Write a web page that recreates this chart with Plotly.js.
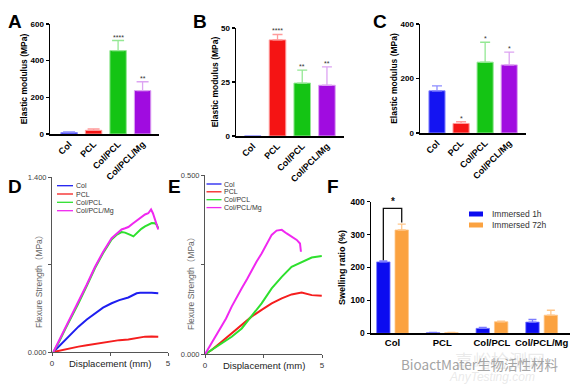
<!DOCTYPE html>
<html><head><meta charset="utf-8">
<script src="https://cdn.plot.ly/plotly-3.0.1.min.js"></script>
<style>html,body{margin:0;padding:0;background:#fff}#c{width:579px;height:388px}</style>
</head><body><div id="c"></div>
<script>
// ---------- data ----------
const groups = ["Col", "PCL", "Col/PCL", "Col/PCL/Mg"];
const barColors = ["#1414F2", "#F51414", "#14C414", "#A00CE0"];
const errColors = ["#8C8CFF", "#FF9A9A", "#94E894", "#DDA4F2"];

const modA = [8, 20, 455, 237];
const errA = [3, 8, 55, 48];
const starA = ["", "", "****", "**"];

const modB = [0, 44.5, 24.5, 23.5];
const errB = [0, 2.5, 6, 8.5];
const starB = ["", "****", "**", "**"];

const modC = [155, 35, 260, 250];
const errC = [18, 7, 73, 47];
const starC = ["", "*", "*", "*"];

const lineColors = ["#1E1EF0", "#F51E1E", "#2EE02E", "#F028F0"];

const dColX = [0.06,0.42,0.8,1.14,1.5,1.85,2.2,2.57,2.9,3.29,3.5,3.65,3.8,4.01,4.3,4.58];
const dColY = [0,0.069,0.14,0.203,0.26,0.31,0.355,0.39,0.415,0.436,0.455,0.47,0.474,0.476,0.474,0.47];
const dPclX = [0.06,0.42,0.8,1.14,1.5,1.85,2.2,2.57,2.9,3.29,3.65,4.01,4.3,4.58];
const dPclY = [0,0.016,0.03,0.043,0.054,0.064,0.076,0.088,0.095,0.10,0.112,0.123,0.124,0.123];
const dCpX = [0.06,0.3,0.56,0.85,1.14,1.5,1.85,2.2,2.57,2.8,3.0,3.15,3.29,3.4,3.51,3.6,3.72,3.85,4.01,4.15,4.30,4.42,4.51,4.58];
const dCpY = [0,0.08,0.18,0.28,0.39,0.53,0.67,0.79,0.90,0.94,0.96,0.955,0.946,0.935,0.925,0.94,0.965,0.985,1.005,1.02,1.031,1.03,1.018,0.991];
const dMgX = [0.06,0.3,0.56,0.85,1.14,1.5,1.85,2.2,2.57,2.8,3.0,3.15,3.29,3.5,3.72,3.85,4.01,4.15,4.27,4.35,4.44,4.52,4.58];
const dMgY = [0,0.09,0.19,0.29,0.40,0.54,0.68,0.80,0.91,0.95,0.98,0.99,1.00,1.03,1.06,1.08,1.10,1.11,1.14,1.11,1.06,1.03,0.98];

const eColX = [];
const eColY = [];
const ePclX = [0,0.28,0.71,1.14,1.57,1.99,2.42,2.85,3.28,3.70,4.13,4.56,4.99];
const ePclY = [0,0.012,0.035,0.059,0.082,0.105,0.124,0.142,0.156,0.167,0.172,0.165,0.163];
const eCpX = [0,0.28,0.71,1.14,1.57,1.99,2.42,2.85,3.28,3.70,4.13,4.56,4.99];
const eCpY = [0,0.012,0.031,0.049,0.072,0.105,0.142,0.184,0.216,0.244,0.258,0.270,0.274];
const eMgX = [0,0.28,0.5,0.71,0.9,1.14,1.35,1.57,1.8,1.99,2.2,2.42,2.65,2.85,3.06,3.28,3.49,3.70,3.92,4.06,4.10];
const eMgY = [0,0.031,0.055,0.077,0.10,0.133,0.16,0.184,0.21,0.235,0.258,0.281,0.31,0.333,0.345,0.347,0.337,0.328,0.319,0.309,0.286];

const swellNames = ["Immersed 1h", "Immersed 72h"];
const swellColors = ["#0C0CF0", "#FBA240"];
const swellErrColors = ["#7C7CFF", "#FFC689"];
const swell1h = [217, 2, 15, 34];
const err1h = [3, 0.5, 3, 8];
const swell72h = [314, 2, 35, 55];
const err72h = [18, 0.5, 2, 15];
const sigLevel = 380;
const sigText = "*";

// ---------- helpers ----------
const W = 579, H = 388;
const px = x => x / W;
const py = y => 1 - y / H;
const FF = "Liberation Sans, Arial, Noto Sans CJK SC, sans-serif";

const traces = [];
const annotations = [];
const shapes = [];

function barPanel(vals, errs, stars, xa, ya) {
  traces.push({
    type: "bar", x: groups, y: vals, xaxis: xa, yaxis: ya,
    width: 0.67, offset: -0.335,
    marker: {color: barColors, line: {color: errColors, width: 1}},
    showlegend: false, hoverinfo: "skip"
  });
  groups.forEach((g, i) => {
    if (stars[i]) {
      annotations.push({x: g, y: vals[i] + errs[i], xref: xa, yref: ya, text: stars[i],
        showarrow: false, xanchor: "center", yanchor: "bottom", yshift: -2,
        font: {family: FF, size: 7, color: "#333"}});
    }
  });
}

// per-bar coloured error bars
function colouredErr(vals, errs, xa, ya, capw) {
  groups.forEach((g, i) => {
    if (errs[i] <= 0 || vals[i] <= 0) return;
    traces.push({
      type: "bar", x: [g], y: [vals[i]], xaxis: xa, yaxis: ya,
      width: 0.67, offset: -0.335,
      marker: {color: "rgba(0,0,0,0)"},
      error_y: {type: "data", symmetric: false, array: [errs[i]], arrayminus: [0],
        color: errColors[i], thickness: 1.3, width: capw},
      showlegend: false, hoverinfo: "skip"
    });
  });
}

barPanel(modA, errA, starA, "x", "y");
barPanel(modB, errB, starB, "x2", "y2");
barPanel(modC, errC, starC, "x3", "y3");
colouredErr(modA, errA, "x", "y", 6);
colouredErr(modB, errB, "x2", "y2", 5);
colouredErr(modC, errC, "x3", "y3", 5);

// line panels
const dSeries = [[dColX, dColY], [dPclX, dPclY], [dCpX, dCpY], [dMgX, dMgY]];
const eSeries = [[eColX, eColY], [ePclX, ePclY], [eCpX, eCpY], [eMgX, eMgY]];
dSeries.forEach((s, i) => traces.push({type: "scatter", mode: "lines", x: s[0], y: s[1],
  xaxis: "x4", yaxis: "y4", line: {color: lineColors[i], width: 2}, name: groups[i], showlegend: false, hoverinfo: "skip"}));
eSeries.forEach((s, i) => traces.push({type: "scatter", mode: "lines", x: s[0], y: s[1],
  xaxis: "x5", yaxis: "y5", line: {color: lineColors[i], width: 2}, name: groups[i], showlegend: false, hoverinfo: "skip"}));

// swelling bars
[[swell1h, err1h], [swell72h, err72h]].forEach((s, k) => {
  traces.push({type: "bar", x: groups, y: s[0], xaxis: "x6", yaxis: "y6",
    width: 0.27, offset: k === 0 ? -0.32 : 0.05,
    marker: {color: swellColors[k], line: {color: swellErrColors[k], width: 0.8}},
    error_y: {type: "data", symmetric: false, array: s[1], arrayminus: s[1].map(() => 0),
      color: swellErrColors[k], thickness: 1.3, width: 4},
    name: swellNames[k], showlegend: false, hoverinfo: "skip"});
});

// significance bracket in F
const bL = -0.185, bR = 0.185;
shapes.push({type: "path", xref: "x6", yref: "y6",
  path: `M ${bL} ${swell1h[0] + err1h[0] + 2} L ${bL} ${sigLevel} L ${bR} ${sigLevel} L ${bR} ${swell72h[0] + err72h[0] + 5}`,
  line: {color: "#111", width: 1.3}});
annotations.push({x: 0, y: sigLevel, xref: "x6", yref: "y6", text: sigText, showarrow: false,
  xanchor: "center", yanchor: "bottom", yshift: -1, font: {family: FF, size: 10, color: "#111", weight: "bold"}});

// custom legends for D and E
function lineLegend(x0, x1, tx, ys) {
  groups.forEach((g, i) => {
    shapes.push({type: "line", xref: "paper", yref: "paper", x0: px(x0), x1: px(x1), y0: py(ys[i]), y1: py(ys[i]),
      line: {color: lineColors[i], width: 1.3}});
    annotations.push({x: px(tx), y: py(ys[i]), xref: "paper", yref: "paper", text: g, showarrow: false,
      xanchor: "left", yanchor: "middle", font: {family: FF, size: 7, color: "#333"}});
  });
}
lineLegend(57, 73, 73.5, [185.7, 194, 202.3, 210.7]);
lineLegend(206.5, 221.5, 222, [184, 191.8, 199.7, 207.6]);

// axis titles for D and E (placed like the original, on the tick-label row)
[[110, 363.5], [263.5, 365]].forEach(p => annotations.push({x: px(p[0]), y: py(p[1]), xref: "paper", yref: "paper",
  text: "Displacement (mm)", showarrow: false, xanchor: "center", yanchor: "middle",
  font: {family: FF, size: 9.5, color: "#222"}}));
[[39, 280], [191, 282]].forEach(p => annotations.push({x: px(p[0]), y: py(p[1]), xref: "paper", yref: "paper",
  text: "Flexure Strength（MPa）", textangle: -90, showarrow: false, xanchor: "center", yanchor: "middle",
  font: {family: FF, size: 8.5, color: "#666"}}));

// legend F
[[211.5, 216.5, 214], [222.5, 227.5, 225]].forEach((r, k) => {
  shapes.push({type: "rect", xref: "paper", yref: "paper", x0: px(469), x1: px(483), y0: py(r[1]), y1: py(r[0]),
    fillcolor: swellColors[k], line: {width: 0}});
  annotations.push({x: px(490), y: py(r[2]), xref: "paper", yref: "paper", text: swellNames[k], showarrow: false,
    xanchor: "left", yanchor: "middle", font: {family: FF, size: 8.5, color: "#333"}});
});

// panel letters
[["A", 15, 21], ["B", 200, 21], ["C", 380, 21], ["D", 15, 186], ["E", 174, 186], ["F", 333, 186]].forEach(l => {
  annotations.push({x: px(l[1]), y: py(l[2]), xref: "paper", yref: "paper", text: l[0], showarrow: false,
    xanchor: "center", yanchor: "middle", font: {family: FF, size: 19, color: "#000", weight: "bold"}});
});

// watermark texts
annotations.push({x: px(500), y: py(359.5), xref: "paper", yref: "paper", text: "嘉峪检测网", showarrow: false,
  xanchor: "center", yanchor: "middle",
  font: {family: "Noto Sans CJK SC", size: 18, color: "rgba(200,200,200,0.4)"}});
annotations.push({x: px(492), y: py(377), xref: "paper", yref: "paper", text: "<i>AnyTesting.com</i>", showarrow: false,
  xanchor: "center", yanchor: "middle",
  font: {family: FF, size: 12, color: "rgba(200,200,200,0.4)"}});
annotations.push({x: px(479), y: py(364), xref: "paper", yref: "paper", text: "BioactMater生物活性材料", showarrow: false,
  xanchor: "center", yanchor: "middle",
  font: {family: "Noto Sans CJK SC", size: 13.5, color: "#A4A4A4"}});

// ---------- axes ----------
const boldTick = s => ({family: FF, size: s, color: "#000", weight: "bold"});
function catX(dom, anchor, range, angle, size) {
  return {domain: dom, anchor: anchor, type: "category", range: range, tickangle: angle,
    showline: true, linecolor: "#000", linewidth: 1.5, ticks: "", showgrid: false, zeroline: false,
    tickfont: boldTick(size), fixedrange: true};
}
function numY(dom, anchor, range, tv, title, size) {
  return {domain: dom, anchor: anchor, range: range, tickvals: tv, showline: true, linecolor: "#000", linewidth: 1.5,
    ticks: "outside", ticklen: 3, tickwidth: 1.3, tickcolor: "#000", showgrid: false, zeroline: false,
    tickfont: boldTick(size), title: {text: title, font: {family: FF, size: 8.5, color: "#000", weight: "bold"}, standoff: 1},
    fixedrange: true};
}
function lineX(dom, anchor) {
  return {domain: dom, anchor: anchor, range: [0, 5], tickvals: [0, 2.5, 5], ticktext: ["0", "", "5"],
    showline: true, linecolor: "#555", linewidth: 1, ticks: "outside", ticklen: 3, tickcolor: "#555",
    showgrid: false, zeroline: false, tickfont: {family: FF, size: 8, color: "#333"}};
}
function lineY(dom, anchor, top, ttext) {
  return {domain: dom, anchor: anchor, range: [0, top], tickvals: [0, top / 2, top], ticktext: ["0.000", "", ttext],
    showline: true, linecolor: "#555", linewidth: 1, ticks: "outside", ticklen: 3, tickcolor: "#555",
    showgrid: false, zeroline: false, tickfont: {family: FF, size: 7.5, color: "#444"}};
}

const layout = {
  width: W, height: H, margin: {l: 0, r: 0, t: 0, b: 0},
  paper_bgcolor: "#fff", plot_bgcolor: "rgba(0,0,0,0)", showlegend: false, barmode: "overlay",
  xaxis: catX([px(50), px(159)], "y", [-0.78, 3.67], -45, 9),
  yaxis: numY([py(134), py(24)], "x", [0, 600], [0, 200, 400, 600], "Elastic modulus (MPa)", 8),
  xaxis2: catX([px(236), px(344)], "y2", [-0.68, 3.69], -45, 9),
  yaxis2: numY([py(136), py(28)], "x2", [0, 50], [0, 25, 50], "Elastic modulus (MPa)", 8),
  xaxis3: catX([px(420), px(525.7)], "y3", [-0.706, 3.685], -45, 9),
  yaxis3: numY([py(133), py(24)], "x3", [0, 400], [0, 200, 400], "Elastic modulus (MPa)", 8),
  xaxis4: lineX([px(52), px(168)], "y4"),
  yaxis4: lineY([py(352), py(177)], "x4", 1.4, "1.400"),
  xaxis5: lineX([px(205), px(322)], "y5"),
  yaxis5: lineY([py(354.3), py(175)], "x5", 0.5, "0.500"),
  xaxis6: catX([px(371), px(570)], "y6", [-0.433, 3.57], 0, 9.5),
  yaxis6: numY([py(333.3), py(201.7)], "x6", [0, 400], [0, 100, 200, 300, 400], "Swelling ratio (%)", 8.5),
  annotations: annotations, shapes: shapes
};
layout.yaxis6.title.font.size = 9;
layout.yaxis6.title.standoff = 3;

Plotly.newPlot("c", traces, layout, {staticPlot: true, displayModeBar: false});
</script></body></html>
